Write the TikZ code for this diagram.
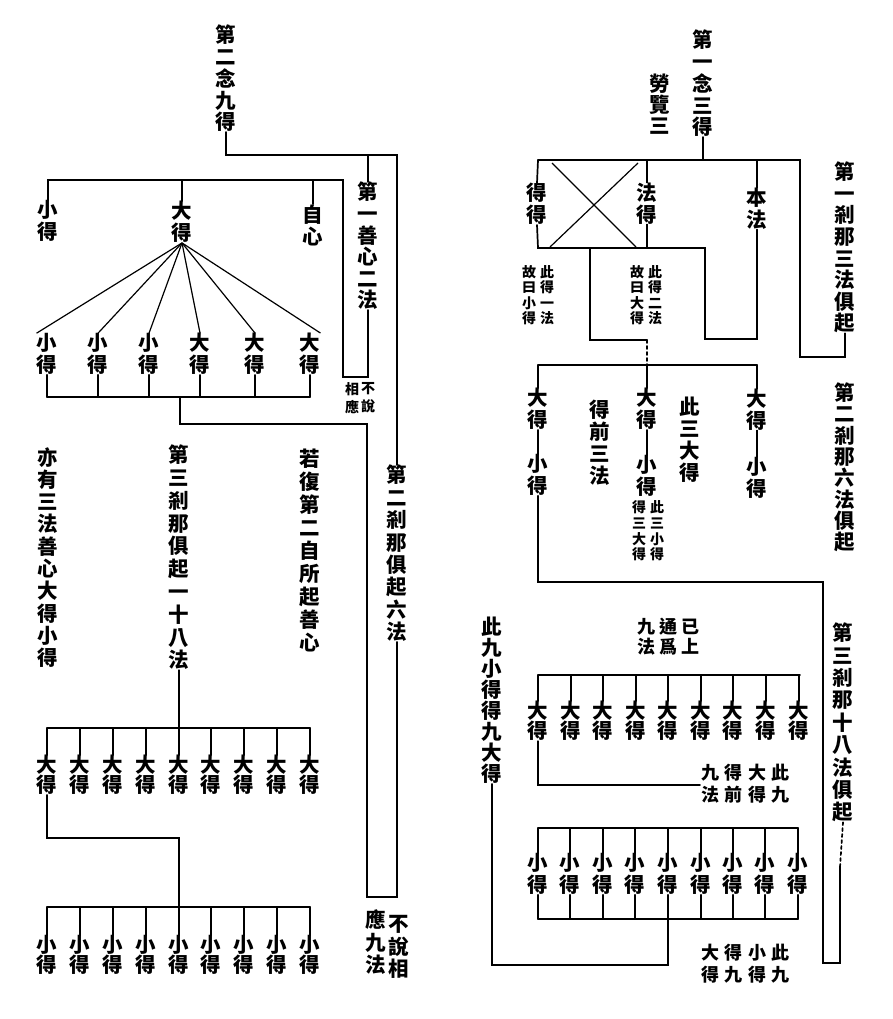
\documentclass[tikz,border=0pt]{standalone}
\usepackage{fontspec}
\setmainfont{Noto Sans CJK TC}
\usetikzlibrary{calc}
\tikzset{
  ln/.style={line width=1.7pt, line cap=round},
  fan/.style={line width=1.2pt},
  vt/.style={align=center, inner sep=0pt, font=\fontsize{20.5}{#1}\selectfont\bfseries},
  vt/.default=22,
  vm/.style={align=center, inner sep=0pt, font=\fontsize{18}{#1}\selectfont\bfseries},
  vm/.default=21,
  sm/.style={align=center, inner sep=0pt, font=\fontsize{14}{#1}\selectfont\bfseries},
  sm/.default=15.5,
}
\begin{document}
\begin{tikzpicture}[x=1pt,y=-1pt]
\fill[white] (0,0) rectangle (893,1019);
\useasboundingbox (0,0) rectangle (893,1019);
% ---------------- LEFT HALF ----------------
\node[vt=21.75] (T2) at (226,78.5) {第\\二\\念\\九\\得};
\node[vt=21.6] (S1) at (368,246) {第\\一\\善\\心\\二\\法};
\node[vt] (A) at (48,221) {小\\得};
\node[vt] (B) at (182,222) {大\\得};
\node[vt] (C) at (313,225) {自\\心};
\node[vt] (m1) at (47,354) {小\\得};
\node[vt] (m2) at (98,354) {小\\得};
\node[vt] (m3) at (149,354) {小\\得};
\node[vt] (m4) at (200,354) {大\\得};
\node[vt] (m5) at (255,354) {大\\得};
\node[vt] (m6) at (310,354) {大\\得};
\node[sm=18] (nb1) at (368,398) {不\\說};
\node[sm=18] (nb2) at (352,398) {相\\應};
\node[vt=22.4] (R2) at (397,553.5) {第\\二\\剎\\那\\俱\\起\\六\\法};
\node[vt=22.3] (L1) at (48,557.5) {亦\\有\\三\\法\\善\\心\\大\\得\\小\\得};
\node[vt=22.8] (L2) at (179,557.5) {第\\三\\剎\\那\\俱\\起\\一\\十\\八\\法};
\node[vt=23] (L3) at (310,550) {若\\復\\第\\二\\自\\所\\起\\善\\心};
\foreach \x [count=\i] in {47,80,113,146,179,211,244,277,310} {
  \node[vt=20] (d\i) at (\x,775) {大\\得};
  \node[vt=20] (s\i) at (\x,955) {小\\得};
}
\node[vt=22.5] (bt1) at (399,947) {不\\說\\相};
\node[vt=22.5] (bt2) at (376,942.5) {應\\九\\法};

\coordinate (yA) at (0,397);
\coordinate (yB) at (0,728);
\coordinate (yC) at (0,907);
\draw[ln] (T2.south) -- (226,155) -- (397,155) -- (R2.north);
\draw[ln] (R2.south) -- (397,897) -- (367,897) -- (367,424) -- (180,424) -- (180,397);
\draw[ln] (368,155) -- (S1.north);
\draw[ln] (S1.south) -- (368,377) -- (343,377) -- (343,180) -- (48,180) -- (A.north);
\draw[ln] (182,180) -- (B.north);
\draw[ln] (313,180) -- (C.north);
\foreach \t in {m1.north west, m2.north, m3.north, m4.north, m5.north, m6.north east}
  \draw[fan] (B.south) -- (\t);
\foreach \i in {1,...,6} \draw[ln] (m\i.south) -- (m\i.south |- yA);
\draw[ln] (47,397) -- (310,397);
\draw[ln] (L2.south) -- (L2.south |- yB);
\draw[ln] (47,728) -- (310,728);
\foreach \i in {1,...,9} {
  \draw[ln] (d\i.north) -- (d\i.north |- yB);
  \draw[ln] (s\i.north) -- (s\i.north |- yC);
}
\draw[ln] (d1.south) -- (47,838) -- (179,838) -- (179,907);
\draw[ln] (47,907) -- (310,907);

% ---------------- RIGHT HALF ----------------
\node[vt=21.75] (T1) at (703,83.5) {第\\一\\念\\三\\得};
\node[vt=21] (LL) at (660,104) {勞\\覽\\三};
\node[vt] (G) at (537,204) {得\\得};
\node[vt] (F) at (647,203.5) {法\\得};
\node[vt] (BF) at (757,208.5) {本\\法};
\node[vt=21.6] (R1) at (845,247.5) {第\\一\\剎\\那\\三\\法\\俱\\起};
\node[sm] (x1r) at (547,295) {此\\得\\一\\法};
\node[sm] (x1l) at (529,295) {故\\曰\\小\\得};
\node[sm] (x2r) at (655,295) {此\\得\\二\\法};
\node[sm] (x2l) at (637,295) {故\\曰\\大\\得};
\node[vt] (D1) at (538,409) {大\\得};
\node[vt] (D2) at (647,409) {大\\得};
\node[vt] (D3) at (757,409.5) {大\\得};
\node[vt] (E1) at (538,475) {小\\得};
\node[vt] (E2) at (647,476) {小\\得};
\node[vt] (E3) at (757,477.5) {小\\得};
\node[sm=15.6] (x3r) at (657,531) {此\\三\\小\\得};
\node[sm=15.6] (x3l) at (639,531) {得\\三\\大\\得};
\node[vt=22] (Q1) at (600,443) {得\\前\\三\\法};
\node[vt=22] (Q2) at (690,440) {此\\三\\大\\得};
\node[vt=21.3] (R2b) at (845,467.5) {第\\二\\剎\\那\\六\\法\\俱\\起};
\node[vt=22.4] (R3) at (843,722.5) {第\\三\\剎\\那\\十\\八\\法\\俱\\起};
\node[vm=20] (Y1) at (690,637) {已\\上};
\node[vm=20] (Y2) at (668,637) {通\\爲};
\node[vm=20] (Y3) at (646,637) {九\\法};
\foreach \x [count=\i] in {538,571,603,636,668,701,733,766,799}
  \node[vt=19] (rd\i) at (\x,721) {大\\得};
\foreach \x [count=\i] in {538,570,603,635,668,701,733,765,798}
  \node[vt] (rs\i) at (\x,874) {小\\得};
\node[vm=22] (Z1) at (780,784) {此\\九};
\node[vm=22] (Z2) at (757,784) {大\\得};
\node[vm=22] (Z3) at (733,784) {得\\前};
\node[vm=22] (Z4) at (710,784) {九\\法};
\node[vt=21] (N) at (492,700.5) {此\\九\\小\\得\\得\\九\\大\\得};
\node[vm=22] (W1) at (780,964) {此\\九};
\node[vm=22] (W2) at (757,964) {小\\得};
\node[vm=22] (W3) at (733,964) {得\\九};
\node[vm=22] (W4) at (710,964) {大\\得};

\coordinate (yD) at (0,675);
\coordinate (yE) at (0,828);
\coordinate (yF) at (0,919);
\draw[ln] (T1.south) -- (703,160);
\draw[ln] (538,160) -- (800,160) -- (800,357) -- (845,357) -- (R1.south);
\draw[ln] (538,160) -- (G.north);
\draw[ln] (G.south) -- (538,248) -- (705,248) -- (705,339) -- (757,339) -- (BF.south);
\draw[ln] (647,160) -- (F.north);
\draw[ln] (F.south) -- (647,248);
\draw[ln] (757,160) -- (BF.north);
\draw[fan] (552,163) -- (636,247);
\draw[fan] (550,247) -- (638,163);
\draw[ln] (590,248) -- (590,340) -- (647,340);
\draw[ln, dashed] (647,340) -- (647,365);
\draw[ln] (538,365) -- (757,365);
\draw[ln] (538,365) -- (D1.north);
\draw[ln] (647,365) -- (D2.north);
\draw[ln] (757,365) -- (D3.north);
\draw[ln] (D1.south) -- (E1.north);
\draw[ln] (D2.south) -- (E2.north);
\draw[ln] (D3.south) -- (E3.north);
\draw[ln] (E1.south) -- (538,582) -- (823,582) -- (823,963) -- (840,963) -- (840,867);
\draw[ln, dashed] (840,867) -- (R3.south);
\draw[ln] (538,675) -- (800,675);
\foreach \i in {1,...,9} {
  \draw[ln] (rd\i.north |- yD) -- (rd\i.north);
  \draw[ln] (rs\i.north |- yE) -- (rs\i.north);
  \draw[ln] (rs\i.south) -- (rs\i.south |- yF);
}
\draw[ln] (rd1.south) -- (538,785) -- (700,785);
\draw[ln] (538,828) -- (798,828);
\draw[ln] (538,919) -- (798,919);
\draw[ln] (668,919) -- (668,965) -- (492,965) -- (N.south);
\end{tikzpicture}
\end{document}
